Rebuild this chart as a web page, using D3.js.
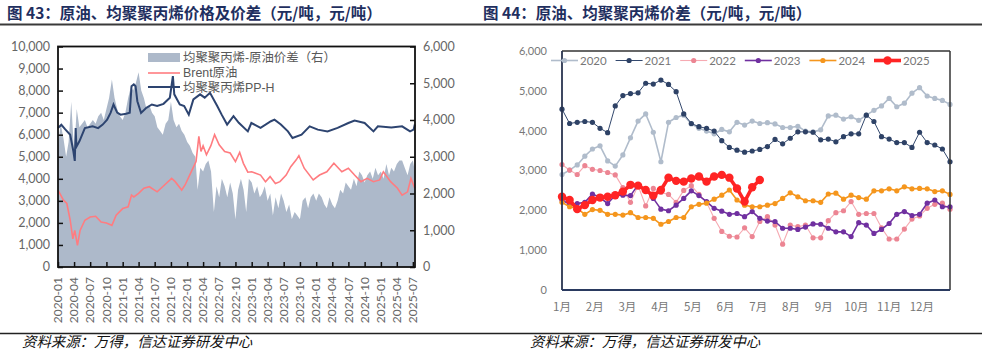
<!DOCTYPE html>
<html><head><meta charset="utf-8">
<script src="https://cdn.jsdelivr.net/npm/d3@7"></script>
<style>
body{margin:0;background:#fff;}
svg{display:block;}
</style></head><body>
<svg id="c" width="982" height="360"></svg>
<script>
// ---------------- DATA: chart 43 ----------------
const ppSeries = [
["2020-01-01",6300],["2020-01-20",6450],["2020-02-10",6250],["2020-03-10",6000],["2020-03-28",5250],["2020-04-05",4810],["2020-04-10",6300],["2020-04-14",5450],["2020-05-01",5700],["2020-06-01",6300],["2020-07-15",6380],["2020-08-15",6300],["2020-09-10",6460],["2020-10-05",6680],["2020-10-25",7000],["2020-11-10",7370],["2020-12-01",7000],["2020-12-20",6910],
["2021-01-20",6950],["2021-02-10",7000],["2021-02-20",8200],["2021-03-05",8280],["2021-03-15",8200],["2021-03-25",7520],["2021-04-15",6990],["2021-05-15",7220],["2021-06-15",7370],["2021-07-15",7300],["2021-08-20",7400],["2021-09-25",7680],["2021-10-12",8660],["2021-10-20",7830],["2021-11-20",7370],["2021-12-15",7300],
["2022-01-10",6910],["2022-02-05",7600],["2022-03-15",7830],["2022-04-10",7680],["2022-05-10",7900],["2022-06-20",7300],["2022-07-15",6910],["2022-08-15",6460],["2022-09-20",6840],["2022-10-20",6540],["2022-12-10",6150],["2022-12-30",6530],
["2023-02-20",6310],["2023-04-20",6610],["2023-05-10",6680],["2023-06-15",6460],["2023-07-25",6150],["2023-08-20",5850],["2023-10-10",6000],["2023-11-25",6380],
["2024-01-10",6230],["2024-03-05",6150],["2024-05-01",6310],["2024-07-01",6530],["2024-08-05",6640],["2024-10-01",6530],["2024-11-20",6150],["2024-12-15",6380],
["2025-03-01",6330],["2025-05-01",6380],["2025-06-15",6150],["2025-07-05",6230],["2025-07-12",6460]
];
const brentSeries = [
["2020-01-01",3490],["2020-02-01",3030],["2020-02-20",2880],["2020-03-10",2120],["2020-03-25",1280],["2020-04-05",1660],["2020-04-20",980],["2020-05-05",1660],["2020-06-01",2120],["2020-07-01",2270],["2020-08-01",2300],["2020-09-01",2040],["2020-10-01",2000],["2020-11-01",1890],["2020-11-25",2350],
["2021-01-01",2650],["2021-02-01",2730],["2021-02-20",3260],["2021-03-05",3180],["2021-04-01",3340],["2021-05-01",3570],["2021-06-01",3640],["2021-07-15",3410],["2021-08-15",3640],["2021-10-05",4020],["2021-10-25",3870],["2021-12-01",3490],["2021-12-20",3720],
["2022-01-15",4170],["2022-02-20",4780],["2022-03-08",5920],["2022-03-20",5240],["2022-04-01",5500],["2022-04-20",5090],["2022-05-15",5500],["2022-06-05",6000],["2022-07-01",5540],["2022-08-01",5240],["2022-09-01",5170],["2022-10-01",4780],["2022-10-25",5200],["2022-11-15",4700],["2022-12-10",4300],
["2023-01-01",4320],["2023-02-20",4170],["2023-03-20",3870],["2023-04-15",4100],["2023-05-15",3790],["2023-06-10",3870],["2023-07-15",4170],["2023-08-10",4550],["2023-09-10",4860],["2023-09-25",5050],["2023-10-25",4480],["2023-12-15",3950],
["2024-01-20",4170],["2024-03-01",4320],["2024-04-10",4710],["2024-05-25",4320],["2024-07-01",4480],["2024-08-05",4170],["2024-09-10",3870],["2024-10-15",4020],["2024-11-20",3870],["2024-12-25",3950],
["2025-01-15",4320],["2025-02-25",3870],["2025-04-05",3570],["2025-05-01",3260],["2025-06-01",3410],["2025-06-20",4020],["2025-07-12",3570]
];
const spreadSeries = [
["2020-01-01",3300],["2020-01-16",3900],["2020-02-01",3500],["2020-02-16",3000],["2020-03-01",3400],["2020-03-16",4500],["2020-04-01",3100],["2020-04-16",4300],["2020-05-01",3800],["2020-05-16",3900],["2020-06-01",4000],["2020-06-16",3800],["2020-07-01",3900],["2020-07-16",4000],["2020-08-01",3900],["2020-08-16",4100],["2020-09-01",4200],["2020-09-16",4000],["2020-10-01",4300],["2020-10-16",4600],["2020-11-01",5100],["2020-11-16",4600],["2020-12-01",4300],["2020-12-16",4100],
["2021-01-01",4000],["2021-01-16",4200],["2021-02-01",4600],["2021-02-16",4900],["2021-03-01",4800],["2021-03-16",5000],["2021-04-01",5300],["2021-04-16",4800],["2021-05-01",4600],["2021-05-16",4300],["2021-06-01",4400],["2021-06-16",4200],["2021-07-01",4100],["2021-07-16",3800],["2021-08-01",3700],["2021-08-16",3600],["2021-09-01",3900],["2021-09-16",4000],["2021-10-01",4500],["2021-10-16",4000],["2021-11-01",3800],["2021-11-16",3900],["2021-12-01",3700],["2021-12-16",3600],
["2022-01-01",3400],["2022-01-16",3300],["2022-02-01",3100],["2022-02-16",3000],["2022-03-01",2100],["2022-03-16",2700],["2022-04-01",2600],["2022-04-16",2800],["2022-05-01",2900],["2022-05-16",2600],["2022-06-01",1500],["2022-06-16",2200],["2022-07-01",1900],["2022-07-16",2400],["2022-08-01",2200],["2022-08-16",1900],["2022-09-01",2300],["2022-09-16",2000],["2022-10-01",1300],["2022-10-16",2100],["2022-11-01",2400],["2022-11-16",2100],["2022-12-01",1500],["2022-12-16",2400],
["2023-01-01",2300],["2023-01-16",2000],["2023-02-01",2200],["2023-02-16",1900],["2023-03-01",2000],["2023-03-16",2200],["2023-04-01",1800],["2023-04-16",2000],["2023-05-01",1400],["2023-05-16",1900],["2023-06-01",1600],["2023-06-16",2000],["2023-07-01",1800],["2023-07-16",1500],["2023-08-01",1700],["2023-08-16",1300],["2023-09-01",1500],["2023-09-16",1400],["2023-10-01",1300],["2023-10-16",1800],["2023-11-01",1900],["2023-11-16",1600],["2023-12-01",1900],["2023-12-16",2000],
["2024-01-01",1800],["2024-01-16",2000],["2024-02-01",1900],["2024-02-16",1700],["2024-03-01",1600],["2024-03-16",1900],["2024-04-01",1700],["2024-04-16",1600],["2024-05-01",1800],["2024-05-16",2100],["2024-06-01",2000],["2024-06-16",2300],["2024-07-01",2200],["2024-07-16",2100],["2024-08-01",2400],["2024-08-16",2200],["2024-09-01",2600],["2024-09-16",2500],["2024-10-01",2300],["2024-10-16",2500],["2024-11-01",2600],["2024-11-16",2400],["2024-12-01",2700],["2024-12-16",2500],
["2025-01-01",2600],["2025-01-16",2400],["2025-02-01",2800],["2025-02-16",2500],["2025-03-01",2700],["2025-03-16",2600],["2025-04-01",2800],["2025-04-16",2900],["2025-05-01",2900],["2025-05-16",2700],["2025-06-01",2500],["2025-06-16",2800],["2025-07-01",2900],["2025-07-12",2600]
];
const dateTickLabels = ["2020-01","2020-04","2020-07","2020-10","2021-01","2021-04","2021-07","2021-10","2022-01","2022-04","2022-07","2022-10","2023-01","2023-04","2023-07","2023-10","2024-01","2024-04","2024-07","2024-10","2025-01","2025-04","2025-07"];
const leftTicks43 = [0,1000,2000,3000,4000,5000,6000,7000,8000,9000,10000];
const rightTicks43 = [0,1000,2000,3000,4000,5000,6000];
const legend43 = ["均聚聚丙烯-原油价差（右）","Brent原油","均聚聚丙烯PP-H"];

// ---------------- DATA: chart 44 ----------------
const monthLabels = ["1月","2月","3月","4月","5月","6月","7月","8月","9月","10月","11月","12月"];
const yearNames = ["2020","2021","2022","2023","2024","2025"];
const y2020 = [2900,3010,3140,3360,3540,3620,3240,3110,3390,3820,4240,4420,3960,3220,4210,4330,4390,4170,4060,3990,3920,4030,3970,4210,4140,4240,4180,4200,4170,4080,4080,4110,3990,3970,4020,4370,4390,4290,4350,4260,4390,4510,4620,4810,4600,4690,4940,5080,4870,4810,4760,4660];
const y2021 = [4540,4180,4210,4230,4210,4060,3950,4620,4880,4930,4950,5190,5170,5270,5160,4980,4420,4180,4100,4060,3990,3750,3580,3510,3460,3490,3530,3600,3780,3670,3810,3970,3970,3960,3770,3790,3720,3850,3920,3920,4390,4230,3850,3790,3700,3700,3580,3960,3700,3640,3540,3220];
const y2022 = [3150,3010,2900,3120,3030,3000,2950,2890,2570,2200,2620,2110,2550,2450,2400,2200,2500,2620,2400,2200,1800,1470,1350,1330,1560,1340,1720,1840,1630,1150,1630,1590,1630,1310,1310,1740,1940,1990,2220,1900,1920,1920,1560,1280,1280,1530,1780,1860,2050,2150,2180,2030];
const y2023 = [2260,2150,2170,2200,2410,2320,2170,2380,2380,2370,2640,2510,2300,2030,1990,2130,2300,2490,2370,2220,2050,1980,1900,1920,1840,1970,1800,1730,1720,1550,1550,1520,1580,1660,1650,1550,1460,1460,1340,1690,1630,1420,1520,1670,1900,1970,1870,1900,2180,2260,2090,2090];
const y2024 = [2200,2090,2050,1900,2020,2000,1900,1900,1880,1940,1820,1820,1800,1650,1720,1820,1820,2090,2150,2180,2280,2380,2510,2260,2130,2090,2090,2130,2170,2300,2440,2340,2240,2240,2200,2410,2430,2280,2380,2320,2280,2490,2490,2540,2490,2590,2540,2550,2540,2470,2490,2400];
const y2025 = [2340,2260,2030,2130,2260,2320,2340,2380,2470,2640,2620,2510,2370,2510,2820,2740,2720,2800,2850,2720,2850,2890,2820,2550,2220,2580,2760];
const yTicks44 = [0,1000,2000,3000,4000,5000,6000];

// ---------------- DRAW ----------------
const svg = d3.select("#c");
const CJK = "'Noto Sans CJK SC','Noto Sans',sans-serif";
const LEG = "'Liberation Sans','Noto Sans CJK SC',sans-serif";
const NUM = "Lato,'Noto Sans',sans-serif";
const parse = d3.timeParse("%Y-%m-%d");
const parseM = d3.timeParse("%Y-%m");

// titles
svg.append("text").attr("x",7).attr("y",19).attr("font-family",CJK).attr("font-weight","bold")
  .attr("font-size",15.5).attr("fill","#1f2f5f").text("图 43：原油、均聚聚丙烯价格及价差（元/吨，元/吨）");
svg.append("text").attr("x",483).attr("y",19).attr("font-family",CJK).attr("font-weight","bold")
  .attr("font-size",15.5).attr("fill","#1f2f5f").text("图 44：原油、均聚聚丙烯价差（元/吨，元/吨）");
svg.append("line").attr("x1",0).attr("x2",982).attr("y1",24.5).attr("y2",24.5).attr("stroke","#3a3a3a").attr("stroke-width",1.8);
svg.append("line").attr("x1",0).attr("x2",982).attr("y1",333.5).attr("y2",333.5).attr("stroke","#222").attr("stroke-width",1.3);
svg.append("text").attr("x",22).attr("y",347).attr("font-family",CJK).attr("font-style","italic")
  .attr("font-size",14.4).attr("fill","#111").text("资料来源：万得，信达证券研发中心");
svg.append("text").attr("x",530).attr("y",347).attr("font-family",CJK).attr("font-style","italic")
  .attr("font-size",14.4).attr("fill","#111").text("资料来源：万得，信达证券研发中心");

// ----- chart 43 -----
(function(){
  const L=58, R=415, T=46.5, B=267;
  const x = d3.scaleTime().domain([parse("2020-01-01"), parse("2025-07-13")]).range([L,R]);
  const yL = d3.scaleLinear().domain([0,10000]).range([B,T]);
  const yR = d3.scaleLinear().domain([0,6000]).range([B,T]);
  const g = svg.append("g");
  const sp = spreadSeries.map(d=>[parse(d[0]),d[1]]);
  g.append("path").datum(sp).attr("fill","#adb9ca")
    .attr("d", d3.area().x(d=>x(d[0])).y0(B).y1(d=>yR(d[1])));
  const br = brentSeries.map(d=>[parse(d[0]),d[1]]);
  g.append("path").datum(br).attr("fill","none").attr("stroke","#ff7c80").attr("stroke-width",1.6)
    .attr("d", d3.line().x(d=>x(d[0])).y(d=>yL(d[1])));
  const pp = ppSeries.map(d=>[parse(d[0]),d[1]]);
  g.append("path").datum(pp).attr("fill","none").attr("stroke","#2d4470").attr("stroke-width",2)
    .attr("d", d3.line().x(d=>x(d[0])).y(d=>yL(d[1])));
  // axes
  const axL = g.append("g").attr("transform",`translate(${L},0)`)
    .call(d3.axisRight(yL).tickValues(leftTicks43).tickSize(5).tickFormat(""));
  const axR = g.append("g").attr("transform",`translate(${R},0)`)
    .call(d3.axisLeft(yR).tickValues(rightTicks43).tickSize(5).tickFormat(""));
  const axB = g.append("g").attr("transform",`translate(0,${B})`)
    .call(d3.axisTop(x).tickValues(dateTickLabels.map(parseM)).tickSize(5).tickFormat(""));
  [axL,axR,axB].forEach(a=>{a.select(".domain").remove(); a.selectAll("line").attr("stroke","#111").attr("stroke-width",1.5);});
  g.append("rect").attr("x",L).attr("y",T).attr("width",R-L).attr("height",B-T)
    .attr("fill","none").attr("stroke","#111").attr("stroke-width",1.8);
  g.selectAll(".yl").data(leftTicks43).join("text").attr("x",50).attr("y",d=>yL(d)).attr("dy","0.35em")
    .attr("text-anchor","end").attr("font-family",NUM).attr("font-size",12.5).attr("fill","#666").text(d3.format(","));
  g.selectAll(".yr").data(rightTicks43).join("text").attr("x",423).attr("y",d=>yR(d)).attr("dy","0.35em")
    .attr("text-anchor","start").attr("font-family",NUM).attr("font-size",12.5).attr("fill","#666").text(d3.format(","));
  g.selectAll(".xl").data(dateTickLabels).join("text")
    .attr("transform",d=>`translate(${x(parseM(d))},277) rotate(-90)`).attr("dy","0.35em")
    .attr("text-anchor","end").attr("font-family",NUM).attr("font-size",12).attr("fill","#666").text(d=>d);
  // legend
  const lg = g.append("g");
  lg.append("rect").attr("x",148).attr("y",53).attr("width",32).attr("height",9).attr("fill","#adb9ca");
  lg.append("line").attr("x1",148).attr("x2",180).attr("y1",73).attr("y2",73).attr("stroke","#ff7c80").attr("stroke-width",1.6);
  lg.append("line").attr("x1",148).attr("x2",180).attr("y1",87).attr("y2",87).attr("stroke","#2d4470").attr("stroke-width",2);
  lg.selectAll("text").data(legend43).join("text").attr("x",183).attr("y",(d,i)=>57.5+i*14.8).attr("dy","0.36em")
    .attr("font-family",LEG).attr("font-size",12.4).attr("fill","#595959").text(d=>d);
})();

// ----- chart 44 -----
(function(){
  const L=562, R=950, T=51, B=290;
  const x = d3.scaleLinear().domain([0,51]).range([L,R]);
  const y = d3.scaleLinear().domain([0,6000]).range([B,T]);
  const g = svg.append("g");
  const series = [y2020,y2021,y2022,y2023,y2024,y2025];
  const styles = [
    {c:"#b0bccb", d:"#b0bccb", w:1.6, r:2.6},
    {c:"#34496e", d:"#2e4266", w:1.0, r:2.6},
    {c:"#f6aab2", d:"#ec8593", w:1.1, r:2.6},
    {c:"#7030a0", d:"#7030a0", w:1.6, r:2.6},
    {c:"#f5961d", d:"#f5961d", w:1.6, r:2.6},
    {c:"#ff2424", d:"#ff2424", w:3.6, r:4.2}
  ];
  series.forEach((s,k)=>{
    const st = styles[k];
    g.append("path").datum(s).attr("fill","none").attr("stroke",st.c).attr("stroke-width",st.w)
      .attr("stroke-linejoin","round").attr("d", d3.line().x((d,i)=>x(i)).y(d=>y(d)));
    g.append("g").selectAll("circle").data(s).join("circle").attr("cx",(d,i)=>x(i)).attr("cy",d=>y(d))
      .attr("r",st.r).attr("fill",st.d);
  });
  // frame
  g.append("line").attr("x1",L).attr("x2",R).attr("y1",T).attr("y2",T).attr("stroke","#333").attr("stroke-width",1.5);
  g.append("line").attr("x1",R).attr("x2",R).attr("y1",T).attr("y2",B).attr("stroke","#333").attr("stroke-width",1.5);
  g.append("line").attr("x1",L).attr("x2",L).attr("y1",T).attr("y2",B).attr("stroke","#2a3550").attr("stroke-width",1.8);
  g.append("line").attr("x1",L).attr("x2",R).attr("y1",B).attr("y2",B).attr("stroke","#2a3a60").attr("stroke-width",1.8);
  g.selectAll(".yl").data(yTicks44).join("text").attr("x",547).attr("y",d=>y(d)).attr("dy","0.35em")
    .attr("text-anchor","end").attr("font-family",NUM).attr("font-size",11).attr("fill","#777").text(d3.format(","));
  g.selectAll(".xl").data(monthLabels).join("text").attr("x",(d,i)=>x(i*4.3)).attr("y",307).attr("dy","0.35em")
    .attr("text-anchor","middle").attr("font-family",CJK).attr("font-size",11.5).attr("fill","#777").text(d=>d);
  // legend
  const lg = g.append("g");
  yearNames.forEach((n,k)=>{
    const st = styles[k];
    const tx = 580 + k*64.6;
    lg.append("line").attr("x1",tx-29).attr("x2",tx-2).attr("y1",60.5).attr("y2",60.5).attr("stroke",st.c).attr("stroke-width",st.w);
    lg.append("circle").attr("cx",tx-15.5).attr("cy",60.5).attr("r",st.r).attr("fill",st.d);
    lg.append("text").attr("x",tx).attr("y",60.5).attr("dy","0.36em").attr("font-family",NUM).attr("font-size",11.5)
      .attr("fill","#777").text(n);
  });
})();
</script>
</body></html>
